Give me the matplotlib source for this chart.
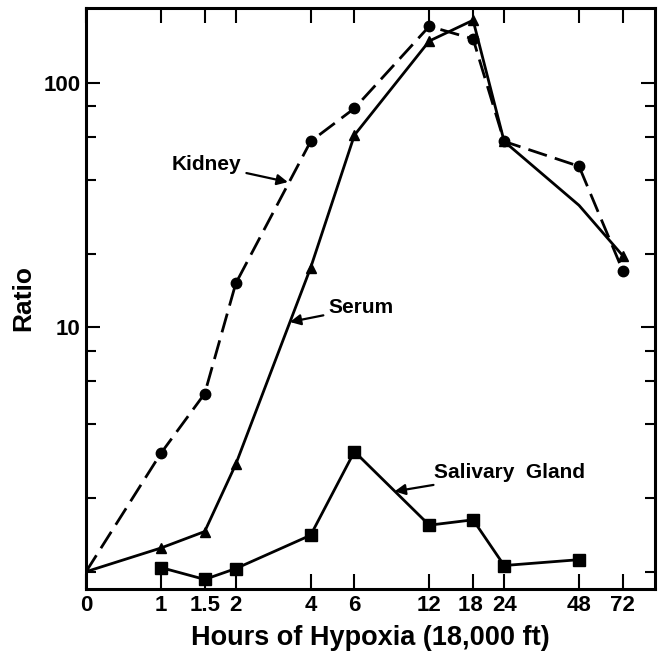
"""Tissue/serum ratio vs hours of hypoxia (18,000 ft)."""

import numpy as np
import matplotlib
matplotlib.use("Agg")
import matplotlib.pyplot as plt
from matplotlib.ticker import FixedLocator, NullFormatter

plt.rcParams['font.family'] = ['Liberation Sans', 'DejaVu Sans']
plt.rcParams['font.weight'] = 'bold'

# hours of hypoxia
kidney_hours = [0, 1, 1.5, 2, 4, 6, 12, 18, 24, 48, 72]
kidney_ratio = [1.0, 3.05, 5.35, 15.1, 57.5, 78.5, 170, 151, 57.5, 45.5, 17.0]

serum_hours = [0, 1, 1.5, 2, 4, 6, 12, 18, 24, 48, 72]
serum_ratio = [1.0, 1.25, 1.46, 2.75, 17.5, 61, 148, 180, 57.5, 31.5, 19.6]

salivary_hours = [1, 1.5, 2, 4, 6, 12, 18, 24, 48]
salivary_ratio = [1.04, 0.93, 1.03, 1.41, 3.1, 1.55, 1.63, 1.06, 1.12]

x_ticks = [0, 1, 1.5, 2, 4, 6, 12, 18, 24, 48, 72]
x_ticklabels = ['0', '1', '1.5', '2', '4', '6', '12', '18 ', '24', '48', '72']
y_major = [10, 100]
y_minor = [1, 2, 4, 6, 8, 20, 40, 60, 80]


# log2 time axis, with 0 h squeezed in one doubling left of 1 h
def fwd(t):
    t = np.asarray(t, dtype=float)
    return np.where(t < 1, t - 1, np.log2(np.maximum(t, 1e-9)))


def inv(x):
    x = np.asarray(x, dtype=float)
    return np.where(x < 0, x + 1, 2.0 ** x)


fig = plt.figure(figsize=(6.67, 6.64), dpi=100)
ax = fig.add_axes([0.129, 0.113, 0.853, 0.875])
ax.set_xscale('function', functions=(fwd, inv))
ax.set_yscale('log')

lw = 2.0
# kidney: dashed with circles, no marker at t=0
ax.plot(kidney_hours, kidney_ratio, color='black', lw=lw, dashes=(7, 3),
        marker='o', ms=7.5, markevery=list(range(1, len(kidney_hours))))
# serum: solid with triangles (48 h point hidden)
ax.plot(serum_hours, serum_ratio, color='black', lw=lw,
        marker='^', ms=7.5, markevery=[1, 2, 3, 4, 5, 6, 7, 8, 10])
ax.plot(salivary_hours, salivary_ratio, color='black', lw=lw,
        marker='s', ms=8.5)

ax.set_xlim(0, 97)
ax.set_ylim(0.85, 202)

ax.xaxis.set_major_locator(FixedLocator(x_ticks))
ax.set_xticklabels(x_ticklabels)
ax.xaxis.set_minor_locator(FixedLocator([]))
ax.yaxis.set_major_locator(FixedLocator(y_major))
ax.yaxis.set_minor_locator(FixedLocator(y_minor))
ax.yaxis.set_major_formatter(plt.FixedFormatter(['10', '100']))
ax.yaxis.set_minor_formatter(NullFormatter())

ax.tick_params(which='both', direction='in', top=True, right=True,
               width=1.5, labelsize=16, pad=4)
ax.tick_params(axis='x', which='major', length=11)
ax.tick_params(axis='y', which='major', length=10)
ax.tick_params(axis='y', which='minor', length=7)
for lab in ax.get_xticklabels() + ax.get_yticklabels():
    lab.set_fontweight('bold')

for s in ax.spines.values():
    s.set_linewidth(2.2)

ax.set_xlabel('Hours of Hypoxia (18,000 ft)', fontsize=19.5, fontweight='bold', labelpad=7)
ax.set_ylabel('Ratio', fontsize=19, fontweight='bold', labelpad=6)

arrow = dict(arrowstyle='-|>', color='black', lw=1.6, mutation_scale=16,
             shrinkA=2, shrinkB=0)
ax.annotate('Kidney', xy=(3.24, 39.2), xytext=(0.211, 0.731),
            textcoords='axes fraction', ha='center', va='center',
            fontsize=15, fontweight='bold', arrowprops=arrow)
ax.annotate('Serum', xy=(3.30, 10.5), xytext=(0.484, 0.484),
            textcoords='axes fraction', ha='center', va='center',
            fontsize=15, fontweight='bold', arrowprops=arrow)
ax.annotate('Salivary  Gland', xy=(8.7, 2.13), xytext=(0.745, 0.201),
            textcoords='axes fraction', ha='center', va='center',
            fontsize=15, fontweight='bold', arrowprops=arrow)

fig.savefig('out.png', dpi=100)
